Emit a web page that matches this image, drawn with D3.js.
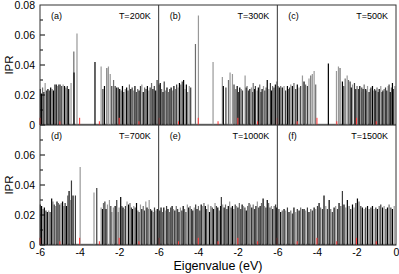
<!DOCTYPE html>
<html><head><meta charset="utf-8">
<script src="https://cdn.jsdelivr.net/npm/d3@7"></script>
<style>body{margin:0;background:#fff}svg{display:block}text{font-family:"Liberation Sans",Arial,sans-serif}</style>
</head><body><svg id="c" width="399" height="274"></svg>
<script>
// ---- data (eigenvalue eV, IPR, sample index) ----
const temps = ["T=200K","T=300K","T=500K","T=700K","T=1000K","T=1500K"];
const tags = ["(a)","(b)","(c)","(d)","(e)","(f)"];
const yTicksTop = [0,0.02,0.04,0.06,0.08];
const yTicksBottom = [0,0.02,0.04,0.06];
const xTicks = [-6,-4,-2];
const redE = [-6,-5,-4,-3,-2,-1];
const redV = [0.0048,0.0025,0.0048,0.0025,0.0048,0.0025];

const barsA = [[-5.98,.024,1],[-5.93,.021,0],[-5.87,.025,2],[-5.8,.022,0],[-5.74,.028,3],[-5.67,.023,1],[-5.6,.024,0],[-5.53,.023,1],[-5.46,.025,0],[-5.39,.024,2],[-5.32,.023,0],[-5.25,.027,1],[-5.18,.027,0],[-5.11,.026,3],[-5.04,.027,0],[-4.97,.027,2],[-4.9,.026,1],[-4.83,.027,3],[-4.76,.026,0],[-4.69,.025,2],[-4.62,.026,1],[-4.55,.024,0],[-4.43,.028,3],[-4.29,.049,2],[-4.28,.035,0],[-4.13,.061,3],
[-3.22,.042,0],[-2.91,.039,3],[-2.82,.024,1],[-2.74,.026,0],[-2.62,.038,2],[-2.54,.039,3],[-2.45,.034,3],[-2.37,.026,1],[-2.28,.030,2],[-2.2,.026,1],[-2.12,.025,0],
[-2.04,.025,1],[-1.97,.024,0],[-1.9,.023,2],[-1.83,.026,0],[-1.76,.022,1],[-1.69,.024,3],[-1.62,.025,0],[-1.55,.023,1],[-1.48,.027,2],[-1.41,.024,0],[-1.34,.025,1],[-1.27,.023,3],[-1.2,.026,0],[-1.13,.022,1],[-1.06,.024,2],[-0.99,.023,0],[-0.92,.026,1],[-0.85,.027,3],[-0.78,.022,0],[-0.71,.025,2],[-0.64,.024,1],[-0.57,.026,0],[-0.5,.023,3],[-0.43,.025,1],[-0.36,.028,2],[-0.29,.024,0],[-0.22,.026,1],[-0.15,.023,0],[-0.08,.030,1]];

const barsB = [[-5.98,.027,1],[-5.92,.028,0],[-5.85,.024,2],[-5.78,.022,0],[-5.72,.029,1],[-5.65,.023,3],[-5.58,.025,0],[-5.51,.022,2],[-5.44,.024,1],[-5.37,.025,0],[-5.3,.023,3],[-5.23,.026,0],[-5.16,.024,2],[-5.09,.027,1],[-5.02,.025,3],[-4.95,.028,0],[-4.88,.027,2],[-4.81,.029,1],[-4.74,.030,0],[-4.67,.024,3],[-4.6,.027,0],[-4.53,.022,2],[-4.45,.026,3],[-4.38,.025,1],
[-4.14,.054,2],[-3.99,.073,3],[-3.25,.042,3],
[-2.78,.032,3],[-2.73,.026,0],[-2.6,.025,1],[-2.47,.030,2],[-2.39,.035,3],[-2.27,.034,3],[-2.19,.027,1],[-2.1,.024,2],[-2.03,.026,0],[-1.97,.022,1],[-1.9,.025,0],[-1.83,.024,2],[-1.76,.023,1],[-1.63,.033,3],[-1.57,.025,0],[-1.53,.026,2],[-1.46,.023,1],[-1.39,.024,0],[-1.31,.025,3],[-1.25,.022,1],[-1.22,.028,2],[-1.15,.024,0],[-1.11,.026,1],[-1.02,.023,3],[-0.96,.025,0],[-0.89,.027,2],[-0.83,.022,1],[-0.77,.024,0],[-0.7,.026,3],[-0.63,.023,1],[-0.57,.025,2],[-0.51,.030,0],[-0.43,.024,3],[-0.35,.028,1],[-0.29,.023,0],[-0.24,.026,2],[-0.17,.025,1],[-0.1,.027,0],[-0.04,.029,3]];

const barsC = [[-5.97,.026,1],[-5.9,.025,0],[-5.83,.026,2],[-5.75,.025,0],[-5.66,.026,3],[-5.58,.023,1],[-5.49,.026,0],[-5.43,.024,2],[-5.38,.025,1],[-5.32,.027,3],[-5.24,.026,0],[-5.16,.028,2],[-5.07,.024,1],[-4.99,.027,0],[-4.9,.025,3],[-4.82,.026,1],[-4.73,.033,3],[-4.65,.029,0],[-4.57,.027,2],[-4.48,.026,1],[-4.4,.031,3],[-4.31,.033,2],[-4.23,.034,3],[-4.14,.036,3],[-4.06,.027,2],
[-3.42,.041,0],[-3.01,.036,3],[-2.91,.039,3],[-2.83,.038,2],
[-2.71,.029,0],[-2.64,.026,1],[-2.57,.031,2],[-2.47,.033,3],[-2.4,.030,2],[-2.32,.029,1],[-2.26,.025,0],[-2.2,.027,3],[-2.1,.028,1],[-2.03,.024,0],[-1.97,.026,2],[-1.9,.024,1],[-1.83,.026,0],[-1.77,.022,3],[-1.73,.025,1],[-1.66,.024,0],[-1.61,.027,2],[-1.53,.024,0],[-1.47,.023,1],[-1.44,.026,3],[-1.36,.022,0],[-1.3,.024,2],[-1.27,.025,1],[-1.19,.026,0],[-1.13,.023,3],[-1.08,.024,1],[-1.02,.023,0],[-0.96,.025,2],[-0.9,.022,1],[-0.85,.024,0],[-0.77,.026,3],[-0.71,.022,1],[-0.66,.023,0],[-0.6,.024,2],[-0.53,.025,1],[-0.46,.023,0],[-0.4,.026,3],[-0.35,.027,1],[-0.29,.022,0],[-0.23,.025,2],[-0.18,.028,0],[-0.12,.024,1],[-0.06,.026,3]];

const barsD = [[-5.98,.027,1],[-5.92,.026,0],[-5.85,.024,2],[-5.78,.025,0],[-5.7,.023,1],[-5.63,.022,0],[-5.56,.023,3],[-5.49,.022,1],[-5.41,.031,0],[-5.35,.029,2],[-5.28,.027,1],[-5.21,.026,3],[-5.14,.029,0],[-5.07,.028,2],[-5.0,.027,1],[-4.93,.028,3],[-4.86,.029,0],[-4.79,.026,2],[-4.73,.028,1],[-4.66,.026,0],[-4.6,.033,2],[-4.53,.036,0],[-4.46,.030,3],[-4.41,.043,1],[-4.33,.033,0],[-4.21,.033,1],
[-3.97,.052,3],[-3.27,.035,3],[-3.13,.038,1],
[-2.91,.025,3],[-2.84,.024,0],[-2.79,.028,2],[-2.72,.029,1],[-2.66,.024,0],[-2.59,.027,3],[-2.49,.030,3],[-2.42,.026,1],[-2.37,.022,2],[-2.29,.025,3],[-2.2,.026,0],[-2.12,.030,1],[-2.04,.022,2],[-2.0,.025,3],[-1.92,.032,0],[-1.86,.026,1],[-1.8,.025,0],[-1.75,.024,2],[-1.68,.026,1],[-1.6,.029,3],[-1.52,.027,0],[-1.45,.028,2],[-1.38,.025,1],[-1.32,.024,0],[-1.26,.026,3],[-1.19,.025,1],[-1.12,.028,0],[-1.05,.023,2],[-0.99,.022,1],[-0.92,.027,3],[-0.85,.024,0],[-0.78,.026,2],[-0.72,.023,1],[-0.65,.029,3],[-0.59,.025,0],[-0.52,.024,2],[-0.48,.030,3],[-0.41,.024,1],[-0.35,.023,0],[-0.28,.022,2],[-0.21,.025,1],[-0.14,.023,3],[-0.07,.024,0]];

const barsE = [[-5.95,.023,1],[-5.88,.025,0],[-5.81,.022,2],[-5.74,.025,0],[-5.67,.023,3],[-5.6,.026,1],[-5.53,.024,0],[-5.46,.022,2],[-5.39,.025,1],[-5.32,.026,0],[-5.25,.024,3],[-5.18,.023,0],[-5.11,.026,2],[-5.04,.024,1],[-4.97,.022,0],[-4.9,.025,3],[-4.83,.023,1],[-4.76,.026,0],[-4.69,.024,2],[-4.62,.022,1],[-4.55,.027,3],[-4.48,.025,0],[-4.41,.026,2],[-4.34,.024,1],[-4.27,.023,0],[-4.2,.025,3],[-4.13,.027,1],[-4.06,.024,0],[-3.99,.026,2],[-3.92,.023,1],[-3.85,.027,0],[-3.78,.026,3],[-3.71,.028,2],[-3.64,.026,0],[-3.57,.024,1],[-3.5,.027,3],[-3.43,.022,0],[-3.36,.026,2],[-3.29,.025,1],[-3.22,.024,0],[-3.15,.028,3],[-3.08,.026,1],[-3.01,.025,0],[-2.94,.023,2],[-2.87,.026,0],[-2.83,.032,1],[-2.76,.027,3],[-2.69,.025,0],[-2.62,.027,2],[-2.55,.024,1],[-2.48,.026,0],[-2.41,.029,3],[-2.34,.025,1],[-2.27,.026,0],[-2.2,.024,2],[-2.13,.027,1],[-2.06,.026,3],[-1.99,.025,0],[-1.92,.028,2],[-1.85,.024,1],[-1.78,.027,0],[-1.71,.026,3],[-1.64,.025,1],[-1.57,.023,0],[-1.5,.026,2],[-1.43,.028,1],[-1.36,.027,3],[-1.29,.025,0],[-1.22,.027,2],[-1.15,.024,1],[-1.08,.026,0],[-1.01,.029,3],[-0.94,.025,1],[-0.87,.026,0],[-0.8,.028,2],[-0.72,.031,0],[-0.65,.026,3],[-0.58,.025,1],[-0.51,.030,0],[-0.44,.028,2],[-0.37,.025,1],[-0.3,.026,3],[-0.23,.024,0],[-0.16,.026,2],[-0.09,.027,1],[-0.03,.025,0]];

const barsF = [[-5.92,.024,1],[-5.83,.022,0],[-5.75,.023,2],[-5.66,.024,0],[-5.58,.023,3],[-5.49,.025,1],[-5.41,.022,0],[-5.32,.023,2],[-5.24,.021,1],[-5.16,.025,0],[-5.07,.022,3],[-4.99,.024,1],[-4.9,.023,0],[-4.82,.025,2],[-4.73,.024,1],[-4.65,.024,0],[-4.57,.023,3],[-4.48,.025,1],[-4.4,.022,0],[-4.31,.024,2],[-4.23,.023,1],[-4.14,.025,0],[-4.06,.024,3],[-3.97,.026,1],[-3.89,.028,0],[-3.81,.025,2],[-3.72,.024,1],[-3.64,.033,0],[-3.55,.026,3],[-3.47,.024,1],[-3.38,.030,0],[-3.3,.024,2],[-3.22,.022,1],[-3.13,.025,0],[-3.05,.026,3],[-2.96,.024,1],[-2.88,.028,0],[-2.79,.026,2],[-2.71,.036,1],[-2.63,.027,0],[-2.54,.025,3],[-2.46,.030,0],[-2.37,.026,2],[-2.29,.024,1],[-2.2,.027,0],[-2.12,.025,3],[-2.03,.028,1],[-1.95,.031,0],[-1.87,.029,2],[-1.78,.026,1],[-1.7,.025,0],[-1.61,.024,3],[-1.53,.025,1],[-1.44,.026,0],[-1.36,.024,2],[-1.27,.025,1],[-1.19,.026,0],[-1.11,.024,3],[-1.02,.025,1],[-0.94,.024,0],[-0.85,.026,2],[-0.77,.027,1],[-0.68,.025,0],[-0.6,.026,3],[-0.51,.024,1],[-0.43,.025,0],[-0.35,.027,2],[-0.26,.025,1],[-0.18,.024,0],[-0.09,.026,3]];

const panels = [barsA,barsB,barsC,barsD,barsE,barsF];

// ---- layout ----
const svg = d3.select("#c");
const L = 40, R = 396, T = 5, rowH = 120;
const pw = (R - L) / 3;
const shade = ["#000000","#3c3c3c","#6c6c6c","#999999"];

panels.forEach((bars, i) => {
  const col = i % 3, row = Math.floor(i / 3);
  const x0 = L + col * pw, y0 = T + row * rowH;
  const x = d3.scaleLinear().domain([-6, 0]).range([x0, x0 + pw]);
  const y = d3.scaleLinear().domain([0, 0.08]).range([y0 + rowH, y0]);
  const g = svg.append("g");
  // baseline
  g.append("line").attr("x1", x0).attr("x2", x0 + pw)
    .attr("y1", y(0) - 0.5).attr("y2", y(0) - 0.5)
    .attr("stroke", "#808080").attr("stroke-width", 1.5);
  g.selectAll("rect.b").data(bars).join("rect")
    .attr("x", d => x(d[0]) - 0.6).attr("width", 1.2)
    .attr("y", d => y(d[1])).attr("height", d => y(0) - y(d[1]))
    .attr("fill", d => shade[d[2]]);
  g.selectAll("rect.r").data(redE).join("rect")
    .attr("x", d => x(d) - 0.5).attr("width", 1.1)
    .attr("y", (d, k) => y(redV[k])).attr("height", (d, k) => y(0) - y(redV[k]))
    .attr("fill", "#ff4040");
  // labels
  g.append("text").attr("x", x0 + 11).attr("y", y0 + 13.5)
    .attr("font-size", 9).attr("fill", "#000").text(tags[i]);
  g.append("text").attr("x", x0 + pw - 8).attr("y", y0 + 13.5)
    .attr("font-size", 9).attr("text-anchor", "end").attr("fill", "#000").text(temps[i]);
  // x ticks (bottom row labels)
  if (row === 1) {
    const ax = d3.axisBottom(x).tickValues(col === 2 ? xTicks.concat([0]) : xTicks)
      .tickSize(0).tickPadding(4).tickFormat(d3.format("d"));
    const ga = svg.append("g").attr("transform", `translate(0,${y0 + rowH})`).call(ax);
    ga.select(".domain").remove();
    ga.selectAll("text").attr("font-size", 10.5).attr("font-family", "Liberation Sans, Arial, sans-serif")
      .text(d => d === 0 ? "0" : String(d).replace("\u2212", "-"));
  }
  // y axis on first column
  if (col === 0) {
    const ay = d3.axisLeft(y).tickValues(row === 0 ? yTicksTop : yTicksBottom)
      .tickSize(0).tickPadding(5).tickFormat(d => d === 0 ? "0" : d3.format(".2f")(d));
    const gy = svg.append("g").attr("transform", `translate(${x0},0)`).call(ay);
    gy.select(".domain").remove();
    gy.selectAll("text").attr("font-size", 10.5).attr("font-family", "Liberation Sans, Arial, sans-serif");
    // inward ticks: major and minor
    const minor = d3.range(0, 8).map(k => k * 0.01);
    svg.append("g").selectAll("line").data(minor).join("line")
      .attr("x1", x0).attr("x2", (d, k) => x0 + (k % 2 === 0 ? 5 : 3))
      .attr("y1", d => y(d)).attr("y2", d => y(d))
      .attr("stroke", "#000").attr("stroke-width", 1);
    svg.append("text").attr("transform", `translate(13,${y0 + rowH / 2}) rotate(-90)`)
      .attr("text-anchor", "middle").attr("font-size", 11.5).text("IPR");
  }
});

// frames
const fr = svg.append("g").attr("fill", "none").attr("stroke", "#333").attr("stroke-width", 1);
fr.append("rect").attr("x", L).attr("y", T).attr("width", R - L).attr("height", 2 * rowH);
fr.append("line").attr("x1", L).attr("x2", R).attr("y1", T + rowH).attr("y2", T + rowH);
[1, 2].forEach(k => fr.append("line").attr("x1", L + k * pw).attr("x2", L + k * pw)
  .attr("y1", T).attr("y2", T + 2 * rowH));

svg.append("text").attr("x", (L + R) / 2).attr("y", 269.5).attr("text-anchor", "middle")
  .attr("font-size", 12.5).text("Eigenvalue (eV)");
</script></body></html>
